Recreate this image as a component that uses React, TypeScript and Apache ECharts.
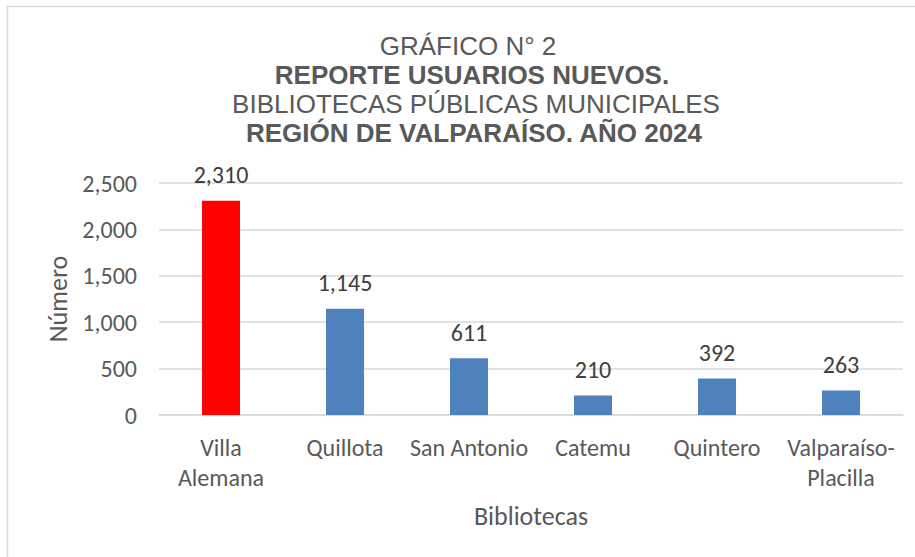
import React, { useEffect, useRef } from "react";
import * as echarts from "echarts";

const categories = ["Villa\nAlemana", "Quillota", "San Antonio", "Catemu", "Quintero", "Valparaíso-\nPlacilla"];
const values = [2310, 1145, 611, 210, 392, 263];
const barColors = ["#ff0000", "#4f81bd", "#4f81bd", "#4f81bd", "#4f81bd", "#4f81bd"];
const titleLines = [
  { text: "GRÁFICO N° 2", bold: false },
  { text: "REPORTE USUARIOS NUEVOS.", bold: true },
  { text: "BIBLIOTECAS PÚBLICAS MUNICIPALES", bold: false },
  { text: "REGIÓN DE VALPARAÍSO. AÑO 2024", bold: true },
];
const yAxisName = "Número";
const xAxisName = "Bibliotecas";

const LABEL_FONT = "Carlito, Lato, 'Noto Sans', sans-serif";
const TITLE_FONT = "'Liberation Sans', Arial, sans-serif";
const TEXT_COLOR = "#595959";

const fmt = (v: number) => v.toLocaleString("en-US");

export default function App() {
  const ref = useRef<HTMLDivElement>(null);
  useEffect(() => {
    if (!ref.current) return;
    const chart = echarts.init(ref.current, undefined, { renderer: "svg" });
    const titleY = [46, 75, 104, 133];
    const titleX = [468, 472, 476, 474];
    chart.setOption({
      animation: false,
      backgroundColor: "#ffffff",
      graphic: [
        {
          type: "rect",
          shape: { x: 7.5, y: 6.5, width: 1200, height: 1200 },
          style: { fill: "none", stroke: "#d9d9d9", lineWidth: 1.5 },
          silent: true,
        },
        ...titleLines.map((l, i) => ({
          type: "text",
          x: titleX[i],
          y: titleY[i],
          style: {
            text: l.text,
            fill: TEXT_COLOR,
            font: `${l.bold ? "bold " : ""}26px ${TITLE_FONT}`,
            textAlign: "center",
            textVerticalAlign: "middle",
          },
        })),
      ],
      grid: { left: 159, right: 12, top: 183, bottom: 142 },
      xAxis: {
        type: "category",
        data: categories,
        name: xAxisName,
        nameLocation: "middle",
        nameGap: 88,
        nameTextStyle: { color: TEXT_COLOR, fontSize: 26, fontFamily: LABEL_FONT },
        axisLine: { lineStyle: { color: "#d9d9d9", width: 1.5 } },
        axisTick: { show: false },
        axisLabel: {
          color: TEXT_COLOR,
          fontSize: 24,
          fontFamily: LABEL_FONT,
          lineHeight: 30,
          margin: 17,
          interval: 0,
        },
      },
      yAxis: {
        type: "value",
        min: 0,
        max: 2500,
        interval: 500,
        name: yAxisName,
        nameLocation: "middle",
        nameGap: 87,
        nameTextStyle: { color: TEXT_COLOR, fontSize: 26, fontFamily: LABEL_FONT },
        axisLine: { show: false },
        axisTick: { show: false },
        splitLine: { lineStyle: { color: "#d9d9d9", width: 1.5 } },
        axisLabel: {
          color: TEXT_COLOR,
          fontSize: 24,
          fontFamily: LABEL_FONT,
          margin: 22,
          formatter: (v: number) => fmt(v),
        },
      },
      series: [
        {
          type: "bar",
          barWidth: 38,
          data: values.map((v, i) => ({ value: v, itemStyle: { color: barColors[i] } })),
          label: {
            show: true,
            position: "top",
            distance: 14,
            color: "#404040",
            fontSize: 24,
            fontFamily: LABEL_FONT,
            formatter: (p: any) => fmt(p.value),
          },
        },
      ],
    });
    return () => chart.dispose();
  }, []);
  return (
    <div
      ref={ref}
      style={{ position: "fixed", left: 0, top: 0, width: 915, height: 557, background: "#fff" }}
    />
  );
}
